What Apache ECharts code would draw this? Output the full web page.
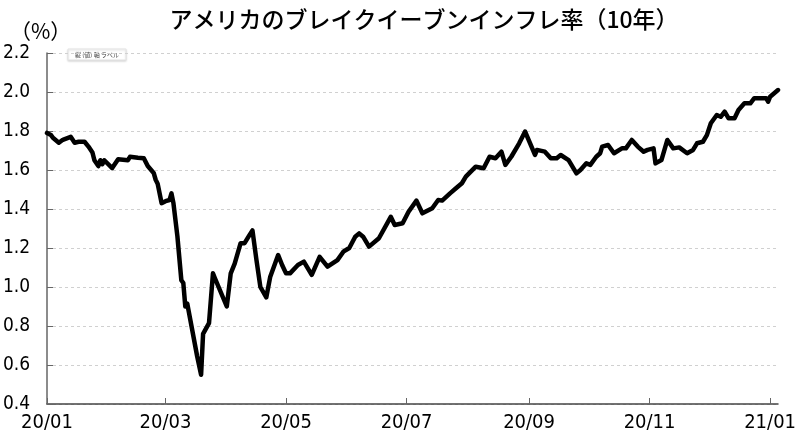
<!DOCTYPE html>
<html>
<head>
<meta charset="utf-8">
<script src="https://cdn.jsdelivr.net/npm/echarts@6/dist/echarts.min.js"></script>
<style>
html,body{margin:0;padding:0;background:#fff;}
#chart{width:800px;height:446px;}
</style>
</head>
<body>
<div id="chart"></div>
<script>
const titleText = 'アメリカのブレイクイーブンインフレ率（10年）';
const unitText = '（%）';
const placeholderText = '縦 (値) 軸 ラベル';
const xTickDates = ['2020-01-01','2020-03-01','2020-05-01','2020-07-01','2020-09-01','2020-11-01','2021-01-01'];
const yMin = 0.4, yMax = 2.2, yStep = 0.2;
const xMinDate = '2020-01-01', xMaxDate = '2021-01-05';

const dates = [
'2020-01-01','2020-01-02','2020-01-03','2020-01-04','2020-01-07','2020-01-09','2020-01-10','2020-01-13','2020-01-15','2020-01-17',
'2020-01-20','2020-01-22','2020-01-24','2020-01-25','2020-01-27','2020-01-28','2020-01-29','2020-01-30','2020-02-03','2020-02-06',
'2020-02-07','2020-02-11','2020-02-12','2020-02-16','2020-02-19','2020-02-21','2020-02-24','2020-02-25','2020-02-26','2020-02-28',
'2020-03-01','2020-03-03','2020-03-04','2020-03-05','2020-03-07','2020-03-09','2020-03-10','2020-03-11','2020-03-12','2020-03-17',
'2020-03-19','2020-03-20','2020-03-23','2020-03-25','2020-03-26','2020-04-01','2020-04-03','2020-04-05','2020-04-08','2020-04-10',
'2020-04-12','2020-04-14','2020-04-16','2020-04-18','2020-04-21','2020-04-23','2020-04-27','2020-04-29','2020-05-01','2020-05-03',
'2020-05-07','2020-05-10','2020-05-14','2020-05-18','2020-05-22','2020-05-27','2020-05-30','2020-06-02','2020-06-05','2020-06-07',
'2020-06-09','2020-06-12','2020-06-17','2020-06-23','2020-06-25','2020-06-29','2020-07-02','2020-07-06','2020-07-09','2020-07-14',
'2020-07-17','2020-07-19','2020-07-23','2020-07-26','2020-07-29','2020-07-31','2020-08-05','2020-08-09','2020-08-12','2020-08-15',
'2020-08-18','2020-08-20','2020-08-23','2020-08-27','2020-08-30','2020-08-31','2020-09-04','2020-09-05','2020-09-09','2020-09-12',
'2020-09-15','2020-09-17','2020-09-21','2020-09-25','2020-09-27','2020-09-30','2020-10-02','2020-10-05','2020-10-07','2020-10-08',
'2020-10-11','2020-10-14','2020-10-18','2020-10-20','2020-10-23','2020-10-26','2020-10-29','2020-10-31','2020-11-03','2020-11-04',
'2020-11-07','2020-11-10','2020-11-13','2020-11-16','2020-11-20','2020-11-23','2020-11-25','2020-11-28','2020-11-30','2020-12-02',
'2020-12-05','2020-12-07','2020-12-09','2020-12-11','2020-12-14','2020-12-16','2020-12-19','2020-12-22','2020-12-24','2020-12-27',
'2020-12-30','2020-12-31','2021-01-01','2021-01-05'
];
const values = [
1.79,1.80,1.78,1.765,1.74,1.755,1.745,1.77,1.74,1.745,
1.745,1.72,1.69,1.65,1.62,1.65,1.63,1.65,1.61,1.655,
1.655,1.65,1.668,1.663,1.66,1.62,1.585,1.55,1.53,1.43,
1.44,1.446,1.48,1.43,1.26,1.035,1.02,0.90,0.915,0.645,
0.55,0.76,0.815,1.07,1.045,0.90,1.07,1.12,1.225,1.225,
1.258,1.29,1.14,1.00,0.947,1.053,1.164,1.113,1.07,1.07,
1.113,1.13,1.062,1.155,1.104,1.138,1.181,1.20,1.258,1.275,
1.258,1.207,1.25,1.36,1.318,1.327,1.386,1.443,1.378,1.404,
1.446,1.443,1.48,1.506,1.532,1.566,1.617,1.609,1.668,1.66,
1.694,1.626,1.668,1.737,1.797,1.805,1.677,1.703,1.694,1.66,
1.66,1.677,1.651,1.583,1.60,1.634,1.626,1.668,1.686,1.72,
1.728,1.686,1.711,1.711,1.754,1.72,1.694,1.703,1.711,1.634,
1.651,1.754,1.711,1.716,1.686,1.703,1.737,1.745,1.779,1.84,
1.882,1.873,1.899,1.865,1.865,1.908,1.942,1.942,1.968,1.968,
1.968,1.95,1.976,2.01
];

const toTime = d => new Date(d + 'T00:00:00Z').getTime();
const seriesData = dates.map((d, i) => [toTime(d), values[i]]);
const tickTimes = xTickDates.map(toTime);

const chart = echarts.init(document.getElementById('chart'));
chart.setOption({
  animation: false,
  backgroundColor: '#fff',
  title: {
    text: titleText,
    left: 419, top: 3, textAlign: 'center',
    textStyle: { fontFamily: 'Noto Sans CJK JP', fontSize: 23, fontWeight: 500, color: '#000' }
  },
  graphic: [
    { type: 'text', left: 10, top: 21, style: { text: unitText, font: '21px "Noto Sans CJK JP"', fill: '#000' } },
    { type: 'rect', shape: { x: 68, y: 49, width: 58, height: 11 },
      style: { fill: '#fff', stroke: '#e4e4e4', lineWidth: 1, shadowBlur: 2, shadowColor: 'rgba(0,0,0,0.15)', shadowOffsetY: 1 } },
    { type: 'text', x: 97, y: 54.5, style: { text: placeholderText, font: '6px "Noto Sans CJK JP"', fill: '#444', align: 'center', verticalAlign: 'middle' } }
  ],
  grid: { left: 46, right: 22, top: 53, bottom: 42, containLabel: false },
  xAxis: {
    type: 'value',
    min: toTime(xMinDate), max: toTime(xMaxDate),
    axisLine: { show: true, lineStyle: { color: '#444', width: 1.5 } },
    axisTick: { show: true, inside: true, length: 6, lineStyle: { color: '#666' }, customValues: tickTimes },
    axisLabel: {
      customValues: tickTimes,
      margin: 9,
      fontFamily: 'DejaVu Sans Condensed', fontSize: 20, color: '#000',
      formatter: function (v) {
        const d = new Date(v);
        const yy = String(d.getUTCFullYear()).slice(2);
        const mm = String(d.getUTCMonth() + 1).padStart(2, '0');
        return yy + '/' + mm;
      }
    },
    splitLine: { show: false }
  },
  yAxis: {
    type: 'value',
    min: yMin, max: yMax, interval: yStep,
    axisLine: { show: true, lineStyle: { color: '#666', width: 1.5 } },
    axisTick: { show: true, inside: true, length: 6, lineStyle: { color: '#666' } },
    axisLabel: {
      align: 'left', margin: 44,
      fontFamily: 'DejaVu Sans Condensed', fontSize: 19, color: '#000',
      formatter: v => v.toFixed(1)
    },
    splitLine: { show: true, lineStyle: { color: '#d0d0d0', type: [3, 3], width: 1 } }
  },
  series: [{
    type: 'line',
    data: seriesData,
    showSymbol: false,
    symbol: 'none',
    lineStyle: { color: '#000', width: 4.5, cap: 'round', join: 'round' }
  }]
});
</script>
</body>
</html>
